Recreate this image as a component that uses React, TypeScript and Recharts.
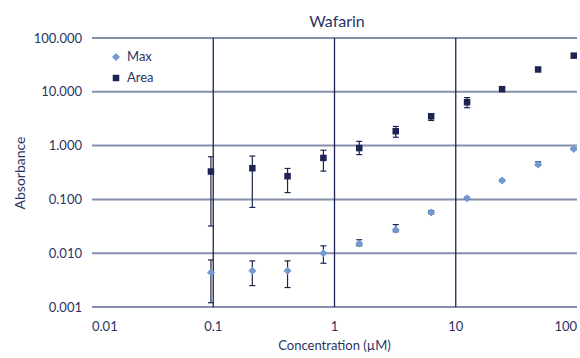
import React from 'react';
import {
  ScatterChart,
  Scatter,
  XAxis,
  YAxis,
  CartesianGrid,
  ErrorBar,
  ReferenceLine,
} from 'recharts';

const concentration = [0.0957, 0.21, 0.41, 0.81, 1.6, 3.2, 6.27, 12.4, 24.1, 47.8, 94];

const areaValues = [0.33, 0.38, 0.27, 0.59, 0.9, 1.85, 3.5, 6.4, 11.2, 26, 47];
const areaLow = [0.032, 0.071, 0.134, 0.336, 0.68, 1.43, 2.93, 5.06, null, null, null];
const areaHigh = [0.62, 0.64, 0.376, 0.82, 1.2, 2.27, 3.85, 7.8, null, null, null];

const maxValues = [0.0044, 0.0047, 0.0047, 0.01, 0.0151, 0.0272, 0.057, 0.105, 0.224, 0.447, 0.865];
const maxLow = [0.0012, 0.0025, 0.0023, 0.0065, 0.0138, 0.025, 0.054, 0.1, 0.215, 0.425, 0.84];
const maxHigh = [0.0075, 0.0072, 0.0072, 0.0137, 0.0178, 0.034, 0.062, 0.11, 0.235, 0.5, 0.9];

const xTicks = [0.01, 0.1, 1, 10, 100];
const yTicks = [0.001, 0.01, 0.1, 1, 10, 100];
const xGridLines = [0.1, 1, 10];

const NAVY = '#1c2454';
const LIGHT = '#7299d2';
const TEXT = '#2a3463';
const GRID = '#878ea9';
const FONT = 'Lato, "DejaVu Sans", sans-serif';

const buildRows = (values: number[], low: (number | null)[], high: (number | null)[]) =>
  concentration.map((c, i) => ({
    x: c,
    y: values[i],
    err: low[i] == null || high[i] == null ? null : [values[i] - (low[i] as number), (high[i] as number) - values[i]],
  }));

const maxData = buildRows(maxValues, maxLow, maxHigh);
const areaData = buildRows(areaValues, areaLow, areaHigh);

const Diamond = (props: any) => {
  const { cx, cy } = props;
  if (cx == null || cy == null) return null;
  const r = 4;
  return <polygon points={`${cx},${cy - r} ${cx + r},${cy} ${cx},${cy + r} ${cx - r},${cy}`} fill={LIGHT} />;
};

const Square = (props: any) => {
  const { cx, cy } = props;
  if (cx == null || cy == null) return null;
  const s = 6.5;
  return <rect x={cx - s / 2} y={cy - s / 2} width={s} height={s} fill={NAVY} />;
};

const XTick = (props: any) => {
  const { x, y, payload, index } = props;
  const anchor = index === 0 ? 'start' : index === xTicks.length - 1 ? 'end' : 'middle';
  return (
    <text x={x} y={y + 13} dy="0.71em" textAnchor={anchor} fill={TEXT} fontSize={13} fontFamily={FONT}>
      {payload.value}
    </text>
  );
};

const LegendBox = () => (
  <div
    style={{
      position: 'absolute',
      left: 112,
      top: 46,
      fontFamily: FONT,
      fontSize: 13,
      color: TEXT,
      lineHeight: '21px',
    }}
  >
    <div style={{ display: 'flex', alignItems: 'center' }}>
      <svg width={8} height={8} style={{ marginRight: 7 }}>
        <polygon points="4,0 8,4 4,8 0,4" fill={LIGHT} />
      </svg>
      Max
    </div>
    <div style={{ display: 'flex', alignItems: 'center' }}>
      <svg width={8} height={8} style={{ marginRight: 7 }}>
        <rect x={0.75} y={0.75} width={6.5} height={6.5} fill={NAVY} />
      </svg>
      Area
    </div>
  </div>
);

export default function App() {
  return (
    <div style={{ position: 'absolute', left: 0, top: 0, width: 580, height: 358, background: '#fff' }}>
      <ScatterChart width={580} height={358} margin={{ top: 38, right: 3, left: 0, bottom: 0 }}>
        <CartesianGrid vertical={false} stroke={GRID} strokeWidth={2} />
        <XAxis
          type="number"
          dataKey="x"
          scale="log"
          domain={[0.01, 100]}
          ticks={xTicks}
          allowDataOverflow
          axisLine={false}
          tickLine={false}
          tickSize={0}
          height={51}
          tick={<XTick />}
          interval={0}
        />
        <YAxis
          type="number"
          dataKey="y"
          scale="log"
          domain={[0.001, 100]}
          ticks={yTicks}
          allowDataOverflow
          axisLine={false}
          tickLine={false}
          tickSize={0}
          tickMargin={10}
          width={92}
          interval={0}
          tickFormatter={(v: number) => v.toFixed(3)}
          tick={{ fill: TEXT, fontSize: 13, fontFamily: FONT }}
        />
        {xGridLines.map((v) => (
          <ReferenceLine key={v} x={v} stroke={NAVY} strokeWidth={1.3} />
        ))}
        <Scatter name="Max" data={maxData} shape={<Diamond />} isAnimationActive={false}>
          <ErrorBar dataKey="err" direction="y" width={3} stroke={NAVY} strokeWidth={1.2} isAnimationActive={false} />
        </Scatter>
        <Scatter name="Area" data={areaData} shape={<Square />} isAnimationActive={false}>
          <ErrorBar dataKey="err" direction="y" width={3} stroke={NAVY} strokeWidth={1.2} isAnimationActive={false} />
        </Scatter>
      </ScatterChart>
      <div
        style={{
          position: 'absolute',
          left: 0,
          width: 580,
          top: 11,
          textAlign: 'center',
          paddingLeft: 94,
          boxSizing: 'border-box',
          fontFamily: FONT,
          fontSize: 16,
          color: TEXT,
        }}
      >
        Wafarin
      </div>
      <LegendBox />
      <div
        style={{
          position: 'absolute',
          left: 92,
          width: 485,
          top: 337,
          textAlign: 'center',
          fontFamily: FONT,
          fontSize: 13,
          color: TEXT,
        }}
      >
        Concentration (µM)
      </div>
      <div
        style={{
          position: 'absolute',
          left: 19,
          top: 173,
          transform: 'translate(-50%, -50%) rotate(-90deg)',
          fontFamily: FONT,
          fontSize: 14,
          color: TEXT,
          whiteSpace: 'nowrap',
        }}
      >
        Absorbance
      </div>
    </div>
  );
}
